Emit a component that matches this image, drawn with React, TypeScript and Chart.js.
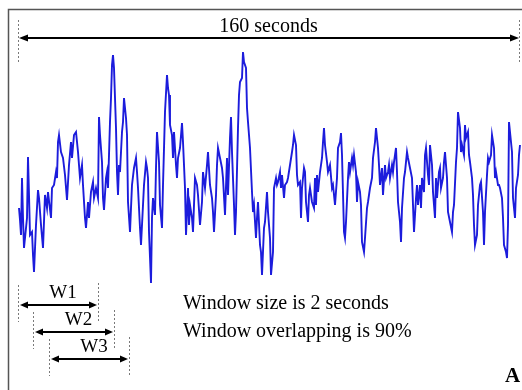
import React, { useEffect, useRef } from 'react';
import { Chart, registerables } from 'chart.js';

Chart.register(...registerables);

// Signal record: sample position along the 160 s record, and amplitude
const sampleIndex = [
  0, 1, 2, 3, 4, 5, 8, 9, 10, 11, 13, 14, 15, 17, 19, 20, 22, 24, 26, 28, 29, 32, 33, 35, 37, 38, 39, 40, 42, 44, 46, 48, 50, 52, 53, 55, 57, 59, 61, 63, 64, 66, 67, 69, 70, 72, 74, 75, 77, 79, 80, 81, 83, 84, 85, 87, 88, 89, 91, 92, 93, 94, 95, 97, 98, 99,
  100, 101, 103, 104, 105, 107, 108, 109, 111, 112, 113, 115, 117, 118, 119, 121, 122, 124, 125, 127, 128, 129, 130, 132, 133, 134, 136, 137, 138, 140, 141, 143, 144, 146, 148, 149, 150, 151, 153, 154, 155, 157, 158, 159, 161, 163, 164, 166, 167, 169, 170, 171, 173, 174, 176, 178, 179, 181, 183, 184, 186, 188, 189, 191, 193, 194, 195, 197, 198, 199,
  201, 203, 204, 206, 208, 209, 211, 212, 213, 215, 216, 217, 219, 220, 221, 223, 224, 225, 227, 228, 229, 231, 233, 234, 235, 237, 238, 239, 241, 242, 243, 245, 246, 248, 249, 251, 252, 254, 255, 257, 258, 259, 261, 262, 263, 265, 266, 268, 269, 271, 273, 274, 275, 277, 278, 279, 281, 282, 283, 285, 286, 287, 289, 290, 291, 293, 295, 296,
  297, 298, 299, 301, 303, 304, 305, 306, 308, 309, 311, 313, 314, 316, 318, 319, 321, 322, 323, 325, 326, 327, 329, 330, 331, 333, 334, 335, 337, 338, 339, 341, 342, 343, 345, 346, 348, 349, 351, 353, 354, 356, 357, 359, 360, 361, 363, 364, 366, 367, 369, 370, 371, 373, 374, 375, 377, 378, 379, 381, 382, 383, 385, 386, 388, 389, 391, 393, 394, 395, 397, 398, 399,
  401, 402, 403, 405, 406, 407, 409, 410, 411, 413, 414, 416, 417, 418, 420, 421, 422, 424, 425, 426, 428, 429, 431, 433, 434, 435, 437, 438, 439, 441, 442, 443, 445, 446, 447, 449, 450, 451, 453, 454, 455, 456, 458, 459, 461, 462, 464, 465, 466, 468, 469, 470, 472, 473, 475, 476, 477, 479, 480, 481, 483, 484, 485, 487, 488, 489, 490, 492, 493, 494, 496, 497, 499, 500, 501,
];

const amplitude = [
  -8, -20, -35, 22, -18, -48, -18, 43, 5, -35, -32, -55, -72, -25, 10, 2, -25, -48, 5, -8, 8, -18, 12, 15, 28, 22, 58, 65, 48, 42, 25, 0, 35, 58, 42, 65, 68, 48, 22, 35, 15, -18, -28, -2, -18, 8, 18, 2, 12, 2, 83, 65, 38, 2, -10, 22, 28, 12, 78, 102, 135, 145, 132, 72, 28, 5,
  35, 28, 68, 78, 102, 82, 65, -2, -32, -8, 15, 32, 42, 28, 12, -28, -45, -5, 15, 38, 32, 22, -32, -83, -18, 2, -15, 32, 68, 38, -5, -28, 15, 88, 125, 112, 105, 75, 65, 42, 68, 35, 22, 42, 52, 77, 58, 12, -35, 12, -25, -5, -18, -32, 22, 15, 5, -25, -2, 28, 12, 35, 48, 15, 2, -12, -32, 5, 35, 52,
  42, 32, 22, -15, 42, 5, 62, 83, 48, -5, -35, -12, 72, 105, 118, 122, 148, 138, 132, 92, 78, 52, 8, -12, -5, -38, -18, -2, -45, -52, -75, -28, -22, 8, -12, -38, -75, -52, 12, 22, 15, 18, 28, 12, 25, 2, 15, 18, 22, 35, 48, 55, 65, 55, 25, 15, 18, -18, 12, 32, 28, -2, -22, 5, 12, -2, -8, 22,
  -5, 25, 8, 28, 42, 58, 72, 55, 38, 28, 35, 12, 15, -5, 22, 52, 58, 67, 45, -32, -38, -22, 22, 38, 28, 42, 35, 45, 28, -2, 18, 8, -5, -42, -52, -38, -8, -2, 12, 22, 42, 58, 72, 52, 35, 15, 32, 5, 35, 22, 28, 35, 22, 35, 28, 38, 52, 28, -2, -22, -42, -8, 22, 28, 48, 42, 32, 22, -5, -32, 2, 15, -5,
  15, -8, 22, 8, 45, 52, 25, 15, 55, 35, 8, -18, 22, 2, 28, 32, 12, 22, 38, 48, 22, -12, -22, -32, -12, -5, 38, 52, 88, 72, 48, 55, 45, 75, 62, 68, 45, 38, 22, 5, -25, -45, -35, -5, 15, 18, -12, -45, -12, 25, 42, 38, 45, 65, 52, 22, 28, 15, 15, 12, 2, -18, -45, -52, -58, -25, 78, 58, 48, 2, -18, 12, 25, 45, 55,
];

// Annotation content
const recordLabel = '160 seconds';
const recordStart = -1;
const recordEnd = 500;
const windowLabels = ['W1', 'W2', 'W3'];
const windowStart = [-1, 14, 30];
const windowEnd = [79, 95, 110];
const noteLines = ['Window size is 2 seconds', 'Window overlapping is 90%'];
const panelLetter = 'A';

const SERIF = '"Liberation Serif", "Times New Roman", serif';

function drawArrow(ctx: CanvasRenderingContext2D, x1: number, x2: number, y: number, lw: number, hl: number, hh: number) {
  ctx.save();
  ctx.strokeStyle = '#000';
  ctx.fillStyle = '#000';
  ctx.lineWidth = lw;
  ctx.beginPath();
  ctx.moveTo(x1 + hl - 1, y);
  ctx.lineTo(x2 - hl + 1, y);
  ctx.stroke();
  ctx.beginPath();
  ctx.moveTo(x1, y);
  ctx.lineTo(x1 + hl, y - hh);
  ctx.lineTo(x1 + hl, y + hh);
  ctx.closePath();
  ctx.fill();
  ctx.beginPath();
  ctx.moveTo(x2, y);
  ctx.lineTo(x2 - hl, y - hh);
  ctx.lineTo(x2 - hl, y + hh);
  ctx.closePath();
  ctx.fill();
  ctx.restore();
}

function dashed(ctx: CanvasRenderingContext2D, x: number, y1: number, y2: number) {
  ctx.save();
  ctx.strokeStyle = '#7a7a7a';
  ctx.lineWidth = 1;
  ctx.setLineDash([2, 2]);
  ctx.beginPath();
  ctx.moveTo(Math.round(x) + 0.5, y1);
  ctx.lineTo(Math.round(x) + 0.5, y2);
  ctx.stroke();
  ctx.restore();
}

const annotationPlugin = {
  id: 'figureAnnotations',
  afterDraw(chart: any) {
    const ctx: CanvasRenderingContext2D = chart.ctx;
    const xs = chart.scales.x;
    // frame
    ctx.save();
    ctx.strokeStyle = '#555';
    ctx.lineWidth = 1.5;
    ctx.beginPath();
    ctx.moveTo(8.5, 392);
    ctx.lineTo(8.5, 9.5);
    ctx.lineTo(524, 9.5);
    ctx.stroke();
    ctx.restore();

    // record span
    const rx1 = xs.getPixelForValue(recordStart);
    const rx2 = xs.getPixelForValue(recordEnd);
    dashed(ctx, rx1, 20, 62);
    dashed(ctx, rx2, 20, 62);
    drawArrow(ctx, rx1 + 1, rx2, 38, 2, 9, 3.5);
    ctx.save();
    ctx.fillStyle = '#000';
    ctx.font = `20px ${SERIF}`;
    ctx.textAlign = 'center';
    ctx.textBaseline = 'alphabetic';
    ctx.fillText(recordLabel, (rx1 + rx2) / 2, 32);
    ctx.restore();

    // windows
    windowLabels.forEach((lab, i) => {
      const a = xs.getPixelForValue(windowStart[i]);
      const b = xs.getPixelForValue(windowEnd[i]);
      const y = 305 + i * 27;
      dashed(ctx, a, y - 20, y + 17);
      dashed(ctx, b, y - 22, y + 16);
      drawArrow(ctx, a + 2, b - 1, y, 2, 8, 3.5);
      ctx.save();
      ctx.fillStyle = '#000';
      ctx.font = `19px ${SERIF}`;
      ctx.textAlign = 'center';
      ctx.fillText(lab, (a + b) / 2 + 5, y - 7);
      ctx.restore();
    });

    // notes
    ctx.save();
    ctx.fillStyle = '#000';
    ctx.font = `20px ${SERIF}`;
    ctx.textAlign = 'left';
    noteLines.forEach((t, i) => ctx.fillText(t, 183, 309 + i * 28));
    ctx.font = `bold 21px ${SERIF}`;
    ctx.fillText(panelLetter, 505, 382);
    ctx.restore();
  },
};

export default function App() {
  const ref = useRef<HTMLCanvasElement | null>(null);
  useEffect(() => {
    document.body.style.margin = '0';
    const canvas = ref.current;
    if (!canvas) return;
    const chart = new Chart(canvas, {
      type: 'line',
      data: {
        datasets: [
          {
            data: sampleIndex.map((x, i) => ({ x, y: amplitude[i] })),
            borderColor: '#1c1cdc',
            borderWidth: 1.9,
            pointRadius: 0,
            tension: 0,
            fill: false,
          },
        ],
      },
      options: {
        animation: false,
        responsive: false,
        devicePixelRatio: 1,
        layout: { padding: 0 },
        plugins: { legend: { display: false }, tooltip: { enabled: false } },
        scales: {
          x: { type: 'linear', min: -19, max: 503, display: false },
          y: { type: 'linear', min: -190, max: 200, display: false },
        },
      },
      plugins: [annotationPlugin],
    });
    return () => chart.destroy();
  }, []);
  return (
    <div style={{ width: 522, height: 390, background: '#fff' }}>
      <canvas ref={ref} width={522} height={390} style={{ display: 'block', width: 522, height: 390 }} />
    </div>
  );
}
